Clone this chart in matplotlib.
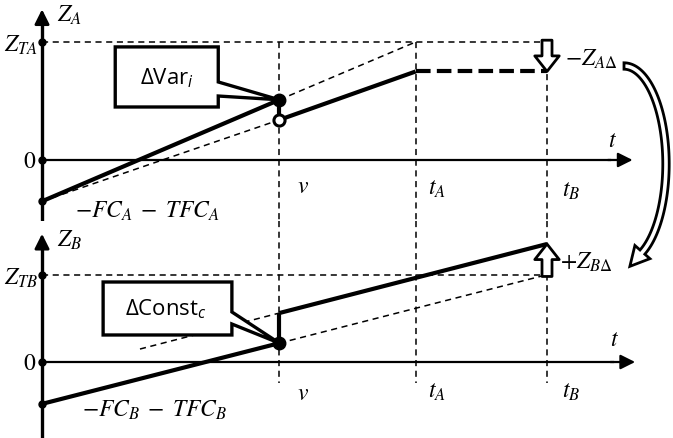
import numpy as np
import matplotlib.pyplot as plt
import matplotlib.transforms as mtransforms
from matplotlib.patches import Polygon

plt.rcParams['mathtext.fontset'] = 'stix'
plt.rcParams['mathtext.rm'] = 'Open Sans'
plt.rcParams['mathtext.it'] = 'Open Sans:italic'

# time marks
t_v, t_A, t_B = 4.7, 7.4, 10.0

# panel A values
ZTA = 10.0
A_start = -3.5
A_hi_v = 5.1      # filled dot at v
A_lo_v = 3.4      # open circle at v
A_end = 7.5       # level reached at t_A

# panel B values
ZTB = 7.4
B_start = -3.55
B_lo_v = 1.6
B_hi_v = 4.15
B_end = 10.0
B_ext_t, B_ext_z = 1.94, 1.1

W, H = 673, 439
fig = plt.figure(figsize=(W / 100, H / 100), dpi=100)
axA = fig.add_axes([0, 217 / H, 1, 222 / H])
axB = fig.add_axes([0, 0, 1, 217 / H])
for ax in (axA, axB):
    ax.set_xlim(-0.832, 12.495)
    ax.axis('off')
axA.set_ylim(-5.17, 13.64)
axB.set_ylim(-6.44, 11.95)

thin = dict(color='k', lw=1.1, ls=(0, (4, 3)))
thick = dict(color='k', lw=3.0, solid_capstyle='butt')
fs = 17


def axes_arrows(ax, ytop, ybot, xend):
    ax.plot([0, 0], [ybot, ytop - 1.2], color='k', lw=2.4)
    ax.annotate('', xy=(0, ytop), xytext=(0, ytop - 1.5),
                arrowprops=dict(arrowstyle='-|>', color='k', lw=2, mutation_scale=22))
    ax.plot([0, xend - 0.5], [0, 0], color='k', lw=1.6)
    ax.annotate('', xy=(xend, 0), xytext=(xend - 0.6, 0),
                arrowprops=dict(arrowstyle='-|>', color='k', lw=1.6, mutation_scale=22))


# ---------- panel A ----------
axes_arrows(axA, 13.0, -5.17, 11.75)
axA.plot([0, t_B], [ZTA, ZTA], **thin)
for t in (t_v, t_A, t_B):
    axA.plot([t, t], [ZTA, -5.17], **thin)
axA.plot([0, t_v], [A_start, A_lo_v], **thin)
axA.plot([t_v, t_A], [A_hi_v, ZTA], **thin)
axA.plot([0, t_v], [A_start, A_hi_v], **thick)
axA.plot([t_v, t_v], [A_hi_v, A_lo_v], **thick)
axA.plot([t_v, t_A], [A_lo_v, A_end], **thick)
axA.plot([t_A, t_B], [A_end, A_end], color='k', lw=3.0, ls=(0, (3.5, 1.5)))
axA.plot([t_v], [A_hi_v], 'o', color='k', ms=9)
axA.plot([t_v], [A_lo_v], 'o', mfc='white', mec='k', mew=2.2, ms=8)
axA.plot([0, 0, 0], [ZTA, 0, A_start], 'o', color='k', ms=5)

boxA = [(1.45, 9.58), (3.49, 9.58), (3.49, 6.61), (t_v, A_hi_v), (3.49, 5.42),
        (3.49, 4.49), (1.45, 4.49)]
axA.add_patch(Polygon(boxA, closed=True, fc='white', ec='k', lw=2.4, zorder=3))
axA.text(2.47, 7.05, r'Δ$\mathrm{Var}_{\mathit{i}}$', fontsize=16, family='Open Sans',
         math_fontfamily='custom', ha='center', va='center', zorder=4)

axA.annotate('', xy=(t_B, A_end), xytext=(t_B, ZTA + 0.15),
             arrowprops=dict(arrowstyle='simple,head_length=0.7,head_width=1.1,tail_width=0.45',
                             fc='white', ec='k', lw=2, mutation_scale=16, shrinkA=0, shrinkB=0))

axA.text(0.3, 12.4, r'$Z_A$', fontsize=fs, va='center')
axA.text(-0.08, 9.8, r'$Z_{TA}$', fontsize=fs, ha='right', va='center')
axA.text(-0.12, 0, r'$0$', fontsize=fs, ha='right', va='center')
axA.text(11.2, 1.8, r'$t$', fontsize=fs, va='center')
axA.text(5.05, -2.1, r'$v$', fontsize=fs, va='center')
axA.text(7.65, -2.3, r'$t_A$', fontsize=fs, va='center')
axA.text(10.3, -2.5, r'$t_B$', fontsize=fs, va='center')
axA.text(0.65, -4.2, r'$-FC_A\;-\;TFC_A$', fontsize=fs, va='center')
axA.text(10.35, 8.6, r'$-Z_{A\Delta}$', fontsize=fs, va='center')

# ---------- panel B ----------
axes_arrows(axB, 11.1, -6.44, 11.8)
axB.plot([0, t_B], [ZTB, ZTB], **thin)
for t in (t_v, t_A, t_B):
    axB.plot([t, t], [11.95, -1.8], **thin)
axB.plot([t_v, t_B], [B_lo_v, ZTB], **thin)
axB.plot([B_ext_t, t_v], [B_ext_z, B_hi_v], **thin)
axB.plot([0, t_v], [B_start, B_lo_v], **thick)
axB.plot([t_v, t_v], [B_lo_v, B_hi_v], **thick)
axB.plot([t_v, t_B], [B_hi_v, B_end], **thick)
axB.plot([t_v], [B_lo_v], 'o', color='k', ms=9)
axB.plot([0, 0, 0], [ZTB, 0, B_start], 'o', color='k', ms=5)

boxB = [(1.21, 6.78), (3.76, 6.78), (3.76, 4.24), (t_v, B_lo_v), (3.76, 3.22),
        (3.76, 2.29), (1.21, 2.29)]
axB.add_patch(Polygon(boxB, closed=True, fc='white', ec='k', lw=2.4, zorder=3))
axB.text(2.45, 4.55, r'Δ$\mathrm{Const}_{\mathit{c}}$', fontsize=16, family='Open Sans',
         math_fontfamily='custom', ha='center', va='center', zorder=4)

axB.annotate('', xy=(t_B, B_end), xytext=(t_B, ZTB - 0.15),
             arrowprops=dict(arrowstyle='simple,head_length=0.7,head_width=1.1,tail_width=0.45',
                             fc='white', ec='k', lw=2, mutation_scale=16, shrinkA=0, shrinkB=0))

axB.text(0.3, 10.4, r'$Z_B$', fontsize=fs, va='center')
axB.text(-0.08, 7.2, r'$Z_{TB}$', fontsize=fs, ha='right', va='center')
axB.text(-0.12, 0, r'$0$', fontsize=fs, ha='right', va='center')
axB.text(11.25, 2.0, r'$t$', fontsize=fs, va='center')
axB.text(5.05, -2.5, r'$v$', fontsize=fs, va='center')
axB.text(7.65, -2.4, r'$t_A$', fontsize=fs, va='center')
axB.text(10.3, -2.4, r'$t_B$', fontsize=fs, va='center')
axB.text(0.8, -4.0, r'$-FC_B\;-\;TFC_B$', fontsize=fs, va='center')
axB.text(10.25, 8.6, r'$+Z_{B\Delta}$', fontsize=fs, va='center')

# curved hollow transfer arrow, drawn in pixel space (y pointing down)
px = mtransforms.Affine2D().scale(1 / W, -1 / H).translate(0, 1) + fig.transFigure
cx, cy, a, b = 624, 165, 42, 98
th = np.radians(np.linspace(90, -64, 80))
cxs = cx + a * np.cos(th)
cys = cy - b * np.sin(th)
dx = a * np.sin(th)
dy = b * np.cos(th)
n = np.hypot(dx, dy)
ux, uy = dx / n, dy / n          # travel direction
nx, ny = -uy, ux                 # normal
hw, head_w, head_l = 3.2, 10, 19
left = np.column_stack([cxs + nx * hw, cys + ny * hw])
right = np.column_stack([cxs - nx * hw, cys - ny * hw])
ex, ey, eux, euy, enx, eny = cxs[-1], cys[-1], ux[-1], uy[-1], nx[-1], ny[-1]
head = [(ex + enx * head_w, ey + eny * head_w),
        (ex + eux * head_l, ey + euy * head_l),
        (ex - enx * head_w, ey - eny * head_w)]
verts = list(map(tuple, left)) + head + list(map(tuple, right[::-1]))
fig.add_artist(Polygon(verts, closed=True, fc='white', ec='k', lw=2,
                       joinstyle='miter', transform=px))

fig.savefig('out.png', dpi=100)
